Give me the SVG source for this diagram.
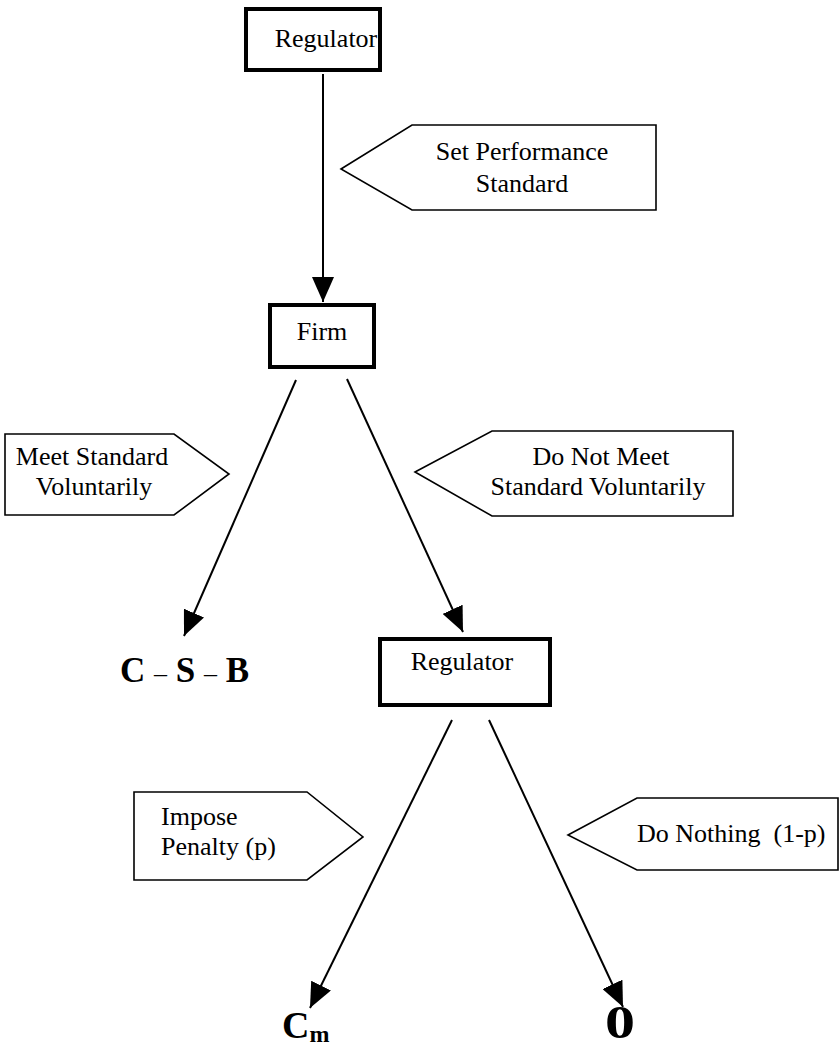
<svg xmlns="http://www.w3.org/2000/svg" width="839" height="1058" viewBox="0 0 839 1058">
<style>
.box{fill:#fff;stroke:#000;stroke-width:4}
.call{fill:#fff;stroke:#000;stroke-width:1.6;stroke-linejoin:miter}
.t{font-family:"Liberation Serif","Times New Roman",serif;font-size:26px;fill:#000}
.b{font-family:"Liberation Serif","Times New Roman",serif;font-weight:bold;fill:#000}
.ln{stroke:#000;stroke-width:2;fill:none;marker-end:url(#ah)}
</style>
<defs>
<marker id="ah" markerUnits="userSpaceOnUse" markerWidth="26" markerHeight="22" refX="25" refY="11" orient="auto">
<path d="M0,0 L25,11 L0,22 z" fill="#000"/>
</marker>
</defs>
<g id="connectors">
<line class="ln" x1="323" y1="74" x2="323" y2="302"/>
<line class="ln" x1="296" y1="380" x2="184" y2="636"/>
<line class="ln" x1="347" y1="379" x2="463" y2="632"/>
<line class="ln" x1="452" y1="720" x2="310" y2="1008"/>
<line class="ln" x1="489" y1="720" x2="623" y2="1007"/>
</g>
<g id="reg1">
<rect class="box" x="246" y="9" width="134" height="61"/>
<text class="t" x="326" y="47" text-anchor="middle">Regulator</text>
</g>
<g id="lbl-set">
<polygon class="call" points="341,169 412,125 656,125 656,210 412,210"/>
<text class="t" x="522" y="160" text-anchor="middle">Set Performance</text>
<text class="t" x="522" y="192" text-anchor="middle">Standard</text>
</g>
<g id="firm">
<rect class="box" x="270" y="305" width="104" height="62"/>
<text class="t" x="322" y="340" text-anchor="middle">Firm</text>
</g>
<g id="lbl-meet">
<polygon class="call" points="5,434 174,434 229,474 174,515 5,515"/>
<text class="t" x="92" y="465" text-anchor="middle">Meet Standard</text>
<text class="t" x="94" y="495" text-anchor="middle">Voluntarily</text>
</g>
<g id="lbl-notmeet">
<polygon class="call" points="415,472 492,431 733,431 733,516 492,516"/>
<text class="t" x="601" y="465" text-anchor="middle">Do Not Meet</text>
<text class="t" x="598" y="495" text-anchor="middle">Standard Voluntarily</text>
</g>
<g id="out-csb">
<text class="b" x="120" y="682" font-size="35">C <tspan font-weight="normal" font-size="26">–</tspan> S <tspan font-weight="normal" font-size="26">–</tspan> B</text>
</g>
<g id="reg2">
<rect class="box" x="380" y="639" width="170" height="66"/>
<text class="t" x="462" y="670" text-anchor="middle">Regulator</text>
</g>
<g id="lbl-impose">
<polygon class="call" points="134,792 307,792 363,837 307,880 134,880"/>
<text class="t" x="161" y="825">Impose</text>
<text class="t" x="161" y="855">Penalty (p)</text>
</g>
<g id="lbl-nothing">
<polygon class="call" points="568,835 637,798 838,798 838,870 637,870"/>
<text class="t" x="637" y="842" xml:space="preserve">Do Nothing  (1-p)</text>
</g>
<g id="out-cm">
<text class="b" x="282" y="1038" font-size="38">C<tspan font-size="24" dy="4">m</tspan></text>
</g>
<g id="out-zero">
<text class="b" x="605" y="1038" font-size="46" textLength="30" lengthAdjust="spacingAndGlyphs">0</text>
</g>
</svg>
